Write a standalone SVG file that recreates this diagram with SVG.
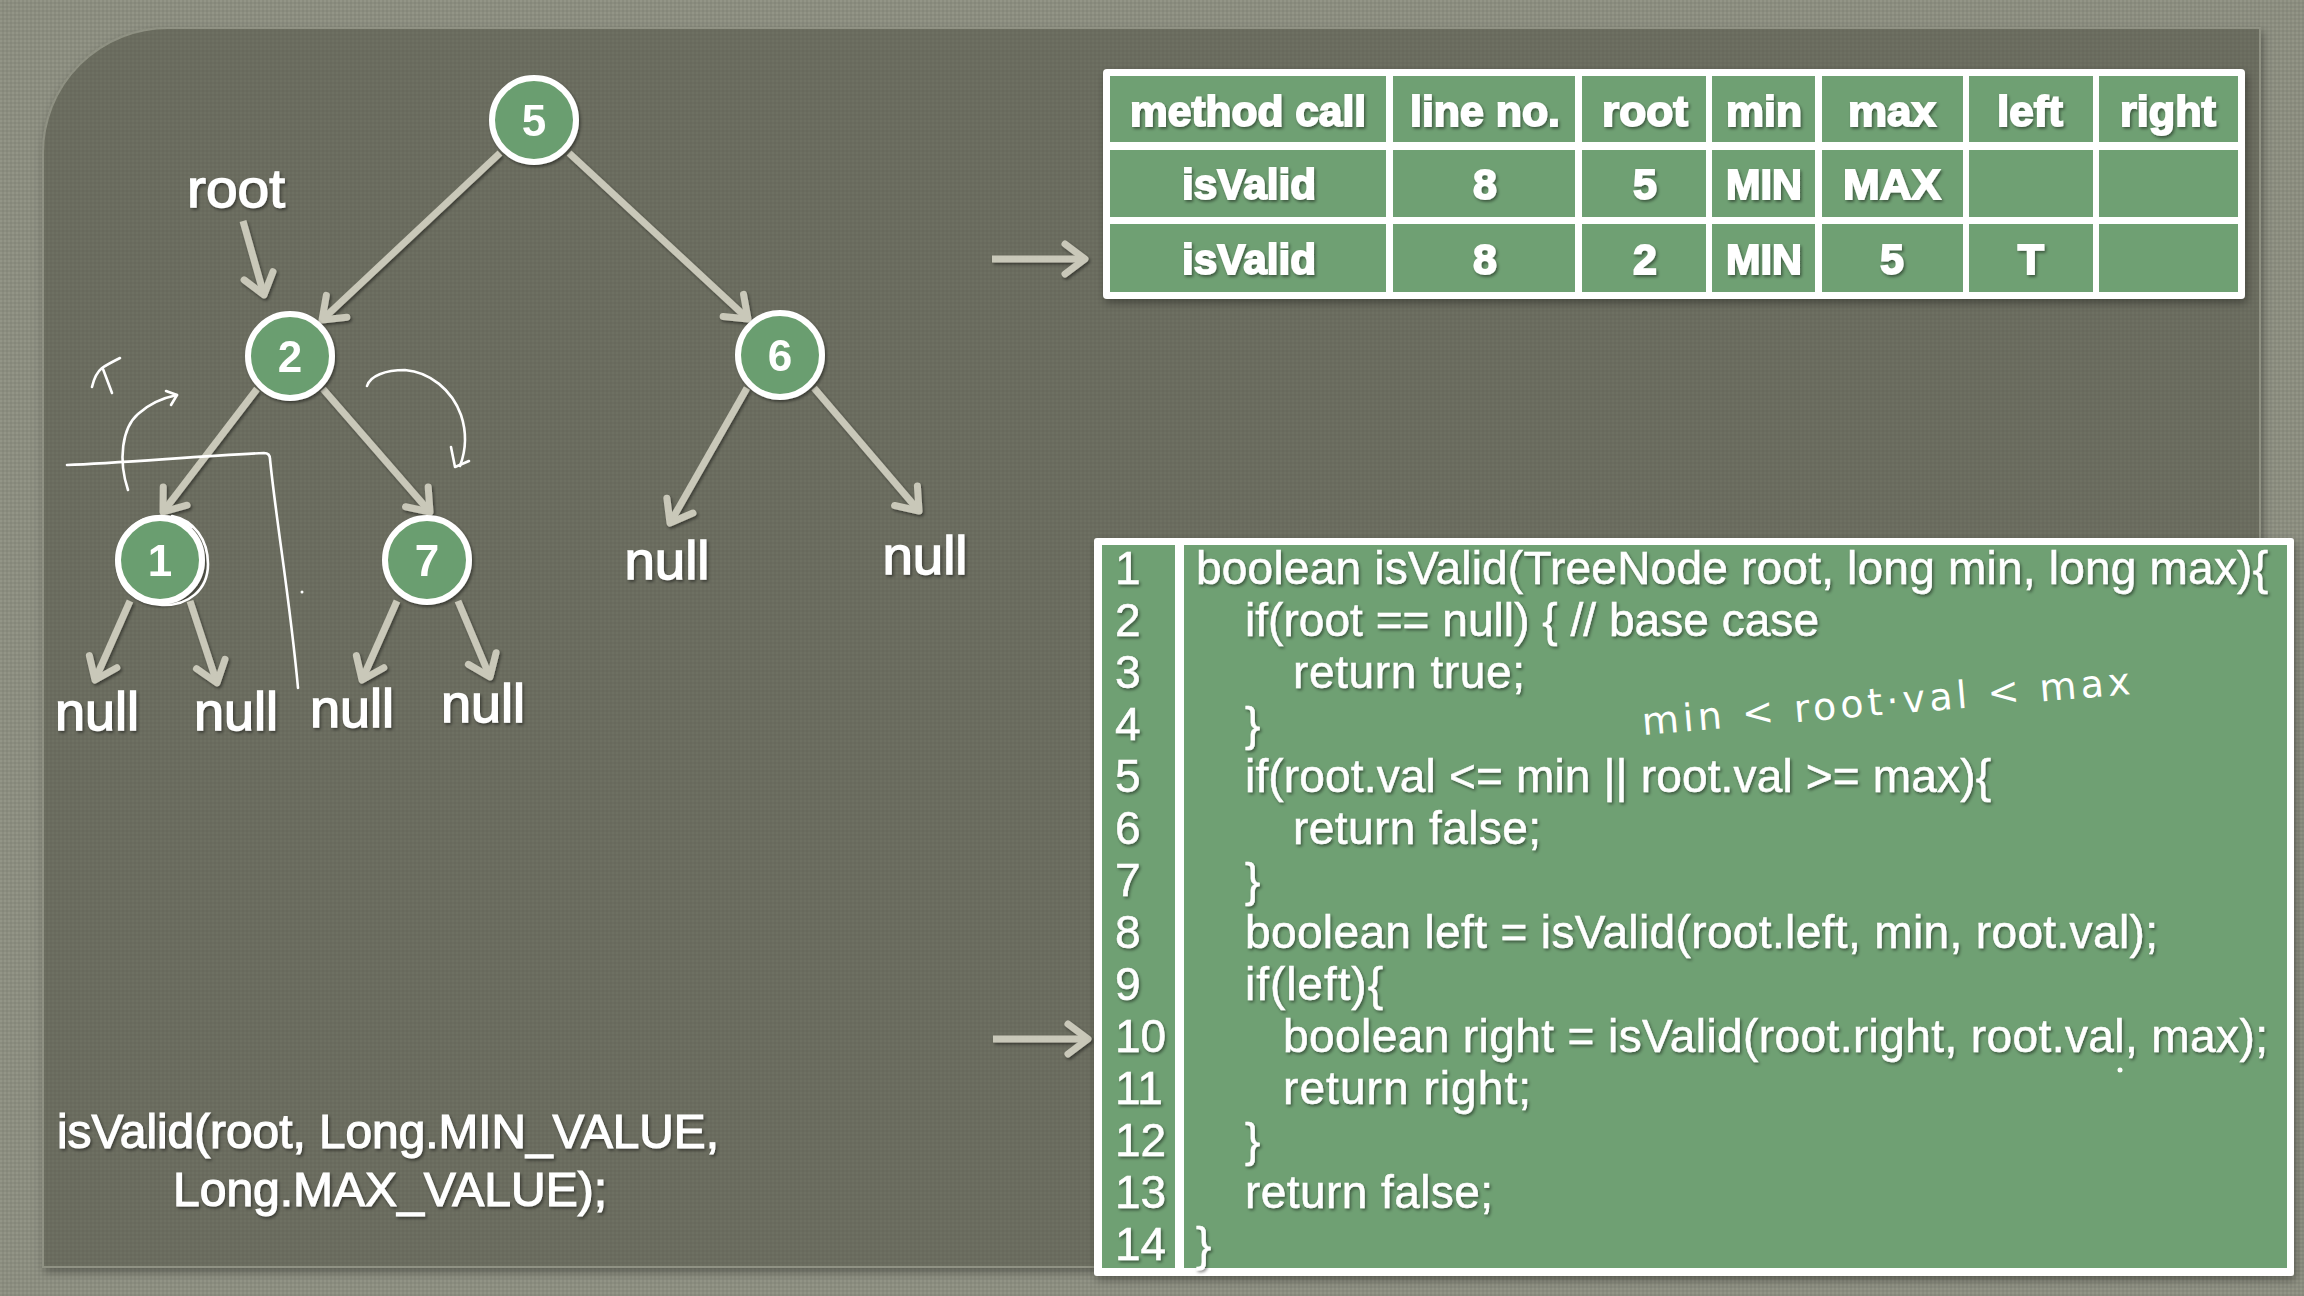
<svg xmlns="http://www.w3.org/2000/svg" width="2304" height="1296" viewBox="0 0 2304 1296">
  <defs>
    <!-- fine woven texture for the outer frame -->
    <pattern id="grainLight" width="4" height="4" patternUnits="userSpaceOnUse">
      <rect width="4" height="4" fill="#8b8d7f"/>
      <rect width="2" height="2" fill="#939587"/>
      <rect x="2" y="2" width="2" height="2" fill="#85877a"/>
    </pattern>
    <!-- subtler texture for the dark board -->
    <pattern id="grainDark" width="4" height="4" patternUnits="userSpaceOnUse">
      <rect width="4" height="4" fill="#6a6c5e"/>
      <rect width="2" height="2" fill="#6e7062"/>
      <rect x="2" y="2" width="2" height="2" fill="#67695b"/>
    </pattern>
    <filter id="soft" x="-10%" y="-10%" width="120%" height="130%">
      <feDropShadow dx="1.5" dy="2" stdDeviation="1.5" flood-color="#000" flood-opacity="0.45"/>
    </filter>
    <filter id="boxShadow" x="-5%" y="-5%" width="110%" height="115%">
      <feDropShadow dx="2" dy="4" stdDeviation="4" flood-color="#000" flood-opacity="0.35"/>
    </filter>
    <!-- open chevron arrowhead used by every connector -->
    <marker id="chev" markerUnits="userSpaceOnUse" markerWidth="60" markerHeight="60" viewBox="-30 -30 60 60" refX="0" refY="0" orient="auto" overflow="visible">
      <path d="M-20,-15 L0,0 L-20,15" fill="none" stroke="#c9c8b9" stroke-width="7" stroke-linecap="round" stroke-linejoin="round"/>
    </marker>
  </defs>

  <style>
    .edge { fill: none; stroke: #c9c8b9; stroke-width: 7; marker-end: url(#chev); }
    .ink { fill: none; stroke: #ffffff; stroke-width: 2.6; stroke-linecap: round; stroke-linejoin: round; }
    .node circle { fill: #6b9e6f; stroke: #ffffff; stroke-width: 6; }
    .node text { font-family: "Liberation Sans", Arial, sans-serif; font-weight: bold; font-size: 44px; fill: #ffffff; text-anchor: middle; }
    .label { font-family: "Liberation Sans", Arial, sans-serif; font-size: 54px; fill: #ffffff; stroke: #ffffff; stroke-width: 1.4; text-anchor: middle; }
    .cell { fill: #6fa073; }
    .th { font-family: "Liberation Sans", Arial, sans-serif; font-weight: bold; font-size: 43px; fill: #ffffff; stroke: #ffffff; stroke-width: 1.8; text-anchor: middle; }
    .code { font-family: "Liberation Sans", Arial, sans-serif; font-size: 46px; fill: #ffffff; stroke: #ffffff; stroke-width: 0.5; }
    .call { font-family: "Liberation Sans", Arial, sans-serif; font-size: 48px; fill: #ffffff; stroke: #ffffff; stroke-width: 1.2; }
    .hand { font-family: "DejaVu Sans", sans-serif; font-size: 38px; fill: #ffffff; }
  </style>

  <!-- background frame and board -->
  <rect x="0" y="0" width="2304" height="1296" fill="url(#grainLight)"/>
  <path d="M43,1267 L43,153 A125,125 0 0 1 168,28 L2260,28 L2260,1267 Z" fill="url(#grainDark)" stroke="#8f9183" stroke-width="2" filter="url(#boxShadow)"/>

  <!-- connectors -->
  <g id="connectors" filter="url(#soft)">
    <path class="edge" d="M500,153 L322,320"/>
    <path class="edge" d="M569,153 L748,319"/>
    <path class="edge" d="M257,389 L163,512"/>
    <path class="edge" d="M323,389 L430,512"/>
    <path class="edge" d="M747,388 L670,523"/>
    <path class="edge" d="M814,388 L919,511"/>
    <path class="edge" d="M130,601 L95,680"/>
    <path class="edge" d="M190,601 L217,683"/>
    <path class="edge" d="M397,601 L362,680"/>
    <path class="edge" d="M458,601 L490,677"/>
    <path class="edge" d="M243,221 L264,295"/>
    <path class="edge" d="M992,259 L1085,259"/>
    <path class="edge" d="M993,1039 L1088,1039"/>
  </g>

  <!-- tree nodes -->
  <g filter="url(#soft)">
    <g id="node-5" class="node"><circle cx="534" cy="120" r="42"/><text x="534" y="136">5</text></g>
    <g id="node-2" class="node"><circle cx="290" cy="356" r="42"/><text x="290" y="372">2</text></g>
    <g id="node-6" class="node"><circle cx="780" cy="355" r="42"/><text x="780" y="371">6</text></g>
    <g id="node-1" class="node"><circle cx="160" cy="560" r="42"/><text x="160" y="576">1</text></g>
    <g id="node-7" class="node"><circle cx="427" cy="560" r="42"/><text x="427" y="576">7</text></g>
  </g>

  <!-- null leaves and the root pointer label -->
  <g filter="url(#soft)">
    <g id="null-1"><text class="label" x="97" y="730" textLength="84" lengthAdjust="spacingAndGlyphs">null</text></g>
    <g id="null-2"><text class="label" x="236" y="730" textLength="84" lengthAdjust="spacingAndGlyphs">null</text></g>
    <g id="null-3"><text class="label" x="352" y="727" textLength="84" lengthAdjust="spacingAndGlyphs">null</text></g>
    <g id="null-4"><text class="label" x="483" y="722" textLength="84" lengthAdjust="spacingAndGlyphs">null</text></g>
    <g id="null-5"><text class="label" x="667" y="579" textLength="85" lengthAdjust="spacingAndGlyphs">null</text></g>
    <g id="null-6"><text class="label" x="925" y="574" textLength="85" lengthAdjust="spacingAndGlyphs">null</text></g>
    <g id="root-label"><text class="label" x="236" y="207" textLength="98" lengthAdjust="spacingAndGlyphs">root</text></g>
  </g>

  <!-- initial call -->
  <g id="initial-call" filter="url(#soft)">
    <text class="call" x="57" y="1148" textLength="662" lengthAdjust="spacingAndGlyphs">isValid(root, Long.MIN_VALUE,</text>
    <text class="call" x="173" y="1206" textLength="434" lengthAdjust="spacingAndGlyphs">Long.MAX_VALUE);</text>
  </g>

  <!-- call trace table -->
  <g id="call-table">
    <rect x="1103" y="69" width="1142" height="230" rx="4" fill="#ffffff" filter="url(#boxShadow)"/>
    <g>
      <rect class="cell" x="1110" y="76" width="276" height="66"/>
      <rect class="cell" x="1393" y="76" width="182" height="66"/>
      <rect class="cell" x="1582" y="76" width="124" height="66"/>
      <rect class="cell" x="1712" y="76" width="103" height="66"/>
      <rect class="cell" x="1822" y="76" width="141" height="66"/>
      <rect class="cell" x="1969" y="76" width="124" height="66"/>
      <rect class="cell" x="2099" y="76" width="139" height="66"/>
      <rect class="cell" x="1110" y="150" width="276" height="67"/>
      <rect class="cell" x="1393" y="150" width="182" height="67"/>
      <rect class="cell" x="1582" y="150" width="124" height="67"/>
      <rect class="cell" x="1712" y="150" width="103" height="67"/>
      <rect class="cell" x="1822" y="150" width="141" height="67"/>
      <rect class="cell" x="1969" y="150" width="124" height="67"/>
      <rect class="cell" x="2099" y="150" width="139" height="67"/>
      <rect class="cell" x="1110" y="224" width="276" height="68"/>
      <rect class="cell" x="1393" y="224" width="182" height="68"/>
      <rect class="cell" x="1582" y="224" width="124" height="68"/>
      <rect class="cell" x="1712" y="224" width="103" height="68"/>
      <rect class="cell" x="1822" y="224" width="141" height="68"/>
      <rect class="cell" x="1969" y="224" width="124" height="68"/>
      <rect class="cell" x="2099" y="224" width="139" height="68"/>
    </g>
    <g filter="url(#soft)">
      <text class="th" x="1248" y="126" textLength="236" lengthAdjust="spacingAndGlyphs">method call</text>
      <text class="th" x="1485" y="126" textLength="150" lengthAdjust="spacingAndGlyphs">line no.</text>
      <text class="th" x="1645" y="126" textLength="86" lengthAdjust="spacingAndGlyphs">root</text>
      <text class="th" x="1764" y="126" textLength="76" lengthAdjust="spacingAndGlyphs">min</text>
      <text class="th" x="1892" y="126" textLength="88" lengthAdjust="spacingAndGlyphs">max</text>
      <text class="th" x="2030" y="126" textLength="66" lengthAdjust="spacingAndGlyphs">left</text>
      <text class="th" x="2168" y="126" textLength="96" lengthAdjust="spacingAndGlyphs">right</text>

      <text class="th" x="1249" y="199" textLength="134" lengthAdjust="spacingAndGlyphs">isValid</text>
      <text class="th" x="1485" y="199">8</text>
      <text class="th" x="1645" y="199">5</text>
      <text class="th" x="1764" y="199" textLength="76" lengthAdjust="spacingAndGlyphs">MIN</text>
      <text class="th" x="1892" y="199" textLength="98" lengthAdjust="spacingAndGlyphs">MAX</text>

      <text class="th" x="1249" y="274" textLength="134" lengthAdjust="spacingAndGlyphs">isValid</text>
      <text class="th" x="1485" y="274">8</text>
      <text class="th" x="1645" y="274">2</text>
      <text class="th" x="1764" y="274" textLength="76" lengthAdjust="spacingAndGlyphs">MIN</text>
      <text class="th" x="1892" y="274">5</text>
      <text class="th" x="2031" y="274">T</text>
    </g>
  </g>

  <!-- source listing -->
  <g id="code">
    <rect x="1094" y="538" width="1200" height="738" rx="3" fill="#ffffff" filter="url(#boxShadow)"/>
    <rect class="cell" x="1102" y="545" width="73" height="723"/>
    <rect class="cell" x="1184" y="545" width="1103" height="723"/>
    <g class="code" filter="url(#soft)">
      <text x="1115" y="584">1</text>
      <text x="1115" y="636">2</text>
      <text x="1115" y="688">3</text>
      <text x="1115" y="740">4</text>
      <text x="1115" y="792">5</text>
      <text x="1115" y="844">6</text>
      <text x="1115" y="896">7</text>
      <text x="1115" y="948">8</text>
      <text x="1115" y="1000">9</text>
      <text x="1115" y="1052">10</text>
      <text x="1115" y="1104">11</text>
      <text x="1115" y="1156">12</text>
      <text x="1115" y="1208">13</text>
      <text x="1115" y="1260">14</text>

      <text x="1196" y="584" textLength="1072" lengthAdjust="spacing">boolean isValid(TreeNode root, long min, long max){</text>
      <text x="1245" y="636" textLength="574" lengthAdjust="spacing">if(root == null) { // base case</text>
      <text x="1293" y="688" textLength="232" lengthAdjust="spacing">return true;</text>
      <text x="1245" y="740">}</text>
      <text x="1245" y="792" textLength="746" lengthAdjust="spacing">if(root.val &lt;= min || root.val &gt;= max){</text>
      <text x="1293" y="844" textLength="248" lengthAdjust="spacing">return false;</text>
      <text x="1245" y="896">}</text>
      <text x="1245" y="948" textLength="913" lengthAdjust="spacing">boolean left = isValid(root.left, min, root.val);</text>
      <text x="1245" y="1000" textLength="138" lengthAdjust="spacing">if(left){</text>
      <text x="1283" y="1052" textLength="985" lengthAdjust="spacing">boolean right = isValid(root.right, root.val, max);</text>
      <text x="1283" y="1104" textLength="248" lengthAdjust="spacing">return right;</text>
      <text x="1245" y="1156">}</text>
      <text x="1245" y="1208" textLength="248" lengthAdjust="spacing">return false;</text>
      <text x="1196" y="1260">}</text>
    </g>
  </g>

  <!-- pen annotations -->
  <g id="annotations">
    <!-- T mark -->
    <path class="ink" d="M92,387 C94,378 97,372 102,368 C108,364 114,361 120,358"/>
    <path class="ink" d="M103,369 L112,393"/>
    <!-- upward curved arrow -->
    <path class="ink" d="M128,490 C118,460 122,428 138,414 C150,403 162,398 177,395"/>
    <path class="ink" d="M166,391 L177,395 L171,405"/>
    <!-- bracket line -->
    <path class="ink" d="M67,465 C120,463 200,456 264,453 Q270,453 270,459 C276,520 290,600 298,688"/>
    <!-- downward curved arrow -->
    <path class="ink" d="M367,386 C370,376 385,370 405,370 C430,372 452,390 461,415 C467,433 466,450 460,466"/>
    <path class="ink" d="M451,447 L455,467 L469,461"/>
    <!-- circled node 1 -->
    <path class="ink" d="M172,516 C194,520 208,540 208,564 C208,590 188,606 162,605 C136,604 117,588 117,562 C117,536 136,517 160,516 C172,516 184,520 192,527" stroke-width="2"/>
    <!-- stray pen dots -->
    <circle cx="302" cy="592" r="1.5" fill="#ffffff"/>
    <circle cx="2120" cy="1070" r="2.5" fill="#ffffff"/>
    <!-- bound reminder -->
    <text class="hand" x="1643" y="735" transform="rotate(-4.8 1643 735)" textLength="490" lengthAdjust="spacing">min &lt; root·val &lt; max</text>
  </g>
</svg>
